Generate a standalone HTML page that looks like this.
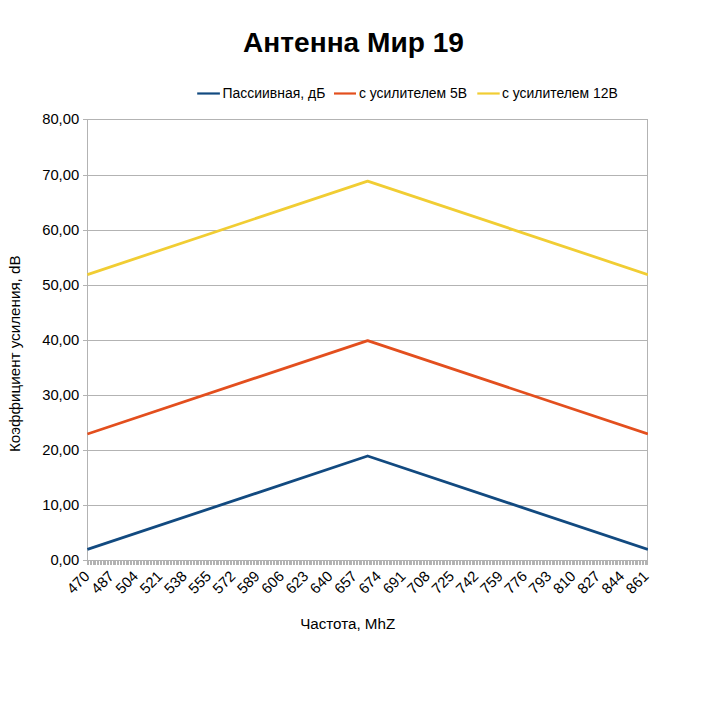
<!DOCTYPE html><html><head><meta charset="utf-8"><style>html,body{margin:0;padding:0;background:#fff}svg{display:block}text{font-family:"Liberation Sans",sans-serif;fill:#000}</style></head><body>
<svg width="707" height="707" viewBox="0 0 707 707">
<rect width="707" height="707" fill="#fff"/>
<text x="353.5" y="52" text-anchor="middle" font-weight="bold" font-size="28.1">Антенна Мир 19</text>
<line x1="197.2" y1="93.5" x2="219.9" y2="93.5" stroke="#124a80" stroke-width="2.2"/>
<text x="222.6" y="97.7" font-size="13.95">Пассиивная, дБ</text>
<line x1="334" y1="93.5" x2="356" y2="93.5" stroke="#e34f1e" stroke-width="2.2"/>
<text x="358.9" y="97.7" font-size="13.95">с усилителем 5В</text>
<line x1="477.3" y1="93.5" x2="499.7" y2="93.5" stroke="#f1cd33" stroke-width="2.2"/>
<text x="501.9" y="97.7" font-size="13.95">с усилителем 12В</text>
<path fill="#b3b3b3" d="M83 119h565v1h-565zM83 175h565v1h-565zM83 230h565v1h-565zM83 285h565v1h-565zM83 340h565v1h-565zM83 395h565v1h-565zM83 450h565v1h-565zM83 505h565v1h-565zM83 560h565v1h-565zM87 119h1v446h-1zM647 119h1v446h-1zM87 561h1v4h-1zM88 561h1v4h-1zM90 561h1v4h-1zM91 561h1v4h-1zM93 561h1v4h-1zM94 561h1v4h-1zM95 561h1v4h-1zM97 561h1v4h-1zM98 561h1v4h-1zM100 561h1v4h-1zM101 561h1v4h-1zM103 561h1v4h-1zM104 561h1v4h-1zM105 561h1v4h-1zM107 561h1v4h-1zM108 561h1v4h-1zM110 561h1v4h-1zM111 561h1v4h-1zM113 561h1v4h-1zM114 561h1v4h-1zM115 561h1v4h-1zM117 561h1v4h-1zM118 561h1v4h-1zM120 561h1v4h-1zM121 561h1v4h-1zM123 561h1v4h-1zM124 561h1v4h-1zM126 561h1v4h-1zM127 561h1v4h-1zM128 561h1v4h-1zM130 561h1v4h-1zM131 561h1v4h-1zM133 561h1v4h-1zM134 561h1v4h-1zM136 561h1v4h-1zM137 561h1v4h-1zM138 561h1v4h-1zM140 561h1v4h-1zM141 561h1v4h-1zM143 561h1v4h-1zM144 561h1v4h-1zM146 561h1v4h-1zM147 561h1v4h-1zM148 561h1v4h-1zM150 561h1v4h-1zM151 561h1v4h-1zM153 561h1v4h-1zM154 561h1v4h-1zM156 561h1v4h-1zM157 561h1v4h-1zM158 561h1v4h-1zM160 561h1v4h-1zM161 561h1v4h-1zM163 561h1v4h-1zM164 561h1v4h-1zM166 561h1v4h-1zM167 561h1v4h-1zM168 561h1v4h-1zM170 561h1v4h-1zM171 561h1v4h-1zM173 561h1v4h-1zM174 561h1v4h-1zM176 561h1v4h-1zM177 561h1v4h-1zM178 561h1v4h-1zM180 561h1v4h-1zM181 561h1v4h-1zM183 561h1v4h-1zM184 561h1v4h-1zM186 561h1v4h-1zM187 561h1v4h-1zM188 561h1v4h-1zM190 561h1v4h-1zM191 561h1v4h-1zM193 561h1v4h-1zM194 561h1v4h-1zM196 561h1v4h-1zM197 561h1v4h-1zM198 561h1v4h-1zM200 561h1v4h-1zM201 561h1v4h-1zM203 561h1v4h-1zM204 561h1v4h-1zM206 561h1v4h-1zM207 561h1v4h-1zM208 561h1v4h-1zM210 561h1v4h-1zM211 561h1v4h-1zM213 561h1v4h-1zM214 561h1v4h-1zM216 561h1v4h-1zM217 561h1v4h-1zM218 561h1v4h-1zM220 561h1v4h-1zM221 561h1v4h-1zM223 561h1v4h-1zM224 561h1v4h-1zM226 561h1v4h-1zM227 561h1v4h-1zM228 561h1v4h-1zM230 561h1v4h-1zM231 561h1v4h-1zM233 561h1v4h-1zM234 561h1v4h-1zM236 561h1v4h-1zM237 561h1v4h-1zM238 561h1v4h-1zM240 561h1v4h-1zM241 561h1v4h-1zM243 561h1v4h-1zM244 561h1v4h-1zM246 561h1v4h-1zM247 561h1v4h-1zM248 561h1v4h-1zM250 561h1v4h-1zM251 561h1v4h-1zM253 561h1v4h-1zM254 561h1v4h-1zM256 561h1v4h-1zM257 561h1v4h-1zM258 561h1v4h-1zM260 561h1v4h-1zM261 561h1v4h-1zM263 561h1v4h-1zM264 561h1v4h-1zM266 561h1v4h-1zM267 561h1v4h-1zM268 561h1v4h-1zM270 561h1v4h-1zM271 561h1v4h-1zM273 561h1v4h-1zM274 561h1v4h-1zM276 561h1v4h-1zM277 561h1v4h-1zM278 561h1v4h-1zM280 561h1v4h-1zM281 561h1v4h-1zM283 561h1v4h-1zM284 561h1v4h-1zM286 561h1v4h-1zM287 561h1v4h-1zM289 561h1v4h-1zM290 561h1v4h-1zM291 561h1v4h-1zM293 561h1v4h-1zM294 561h1v4h-1zM296 561h1v4h-1zM297 561h1v4h-1zM299 561h1v4h-1zM300 561h1v4h-1zM301 561h1v4h-1zM303 561h1v4h-1zM304 561h1v4h-1zM306 561h1v4h-1zM307 561h1v4h-1zM309 561h1v4h-1zM310 561h1v4h-1zM311 561h1v4h-1zM313 561h1v4h-1zM314 561h1v4h-1zM316 561h1v4h-1zM317 561h1v4h-1zM319 561h1v4h-1zM320 561h1v4h-1zM321 561h1v4h-1zM323 561h1v4h-1zM324 561h1v4h-1zM326 561h1v4h-1zM327 561h1v4h-1zM329 561h1v4h-1zM330 561h1v4h-1zM331 561h1v4h-1zM333 561h1v4h-1zM334 561h1v4h-1zM336 561h1v4h-1zM337 561h1v4h-1zM339 561h1v4h-1zM340 561h1v4h-1zM341 561h1v4h-1zM343 561h1v4h-1zM344 561h1v4h-1zM346 561h1v4h-1zM347 561h1v4h-1zM349 561h1v4h-1zM350 561h1v4h-1zM351 561h1v4h-1zM353 561h1v4h-1zM354 561h1v4h-1zM356 561h1v4h-1zM357 561h1v4h-1zM359 561h1v4h-1zM360 561h1v4h-1zM361 561h1v4h-1zM363 561h1v4h-1zM364 561h1v4h-1zM366 561h1v4h-1zM367 561h1v4h-1zM369 561h1v4h-1zM370 561h1v4h-1zM371 561h1v4h-1zM373 561h1v4h-1zM374 561h1v4h-1zM376 561h1v4h-1zM377 561h1v4h-1zM379 561h1v4h-1zM380 561h1v4h-1zM381 561h1v4h-1zM383 561h1v4h-1zM384 561h1v4h-1zM386 561h1v4h-1zM387 561h1v4h-1zM389 561h1v4h-1zM390 561h1v4h-1zM391 561h1v4h-1zM393 561h1v4h-1zM394 561h1v4h-1zM396 561h1v4h-1zM397 561h1v4h-1zM399 561h1v4h-1zM400 561h1v4h-1zM401 561h1v4h-1zM403 561h1v4h-1zM404 561h1v4h-1zM406 561h1v4h-1zM407 561h1v4h-1zM409 561h1v4h-1zM410 561h1v4h-1zM411 561h1v4h-1zM413 561h1v4h-1zM414 561h1v4h-1zM416 561h1v4h-1zM417 561h1v4h-1zM419 561h1v4h-1zM420 561h1v4h-1zM421 561h1v4h-1zM423 561h1v4h-1zM424 561h1v4h-1zM426 561h1v4h-1zM427 561h1v4h-1zM429 561h1v4h-1zM430 561h1v4h-1zM431 561h1v4h-1zM433 561h1v4h-1zM434 561h1v4h-1zM436 561h1v4h-1zM437 561h1v4h-1zM439 561h1v4h-1zM440 561h1v4h-1zM442 561h1v4h-1zM443 561h1v4h-1zM444 561h1v4h-1zM446 561h1v4h-1zM447 561h1v4h-1zM449 561h1v4h-1zM450 561h1v4h-1zM452 561h1v4h-1zM453 561h1v4h-1zM454 561h1v4h-1zM456 561h1v4h-1zM457 561h1v4h-1zM459 561h1v4h-1zM460 561h1v4h-1zM462 561h1v4h-1zM463 561h1v4h-1zM464 561h1v4h-1zM466 561h1v4h-1zM467 561h1v4h-1zM469 561h1v4h-1zM470 561h1v4h-1zM472 561h1v4h-1zM473 561h1v4h-1zM474 561h1v4h-1zM476 561h1v4h-1zM477 561h1v4h-1zM479 561h1v4h-1zM480 561h1v4h-1zM482 561h1v4h-1zM483 561h1v4h-1zM484 561h1v4h-1zM486 561h1v4h-1zM487 561h1v4h-1zM489 561h1v4h-1zM490 561h1v4h-1zM492 561h1v4h-1zM493 561h1v4h-1zM494 561h1v4h-1zM496 561h1v4h-1zM497 561h1v4h-1zM499 561h1v4h-1zM500 561h1v4h-1zM502 561h1v4h-1zM503 561h1v4h-1zM504 561h1v4h-1zM506 561h1v4h-1zM507 561h1v4h-1zM509 561h1v4h-1zM510 561h1v4h-1zM512 561h1v4h-1zM513 561h1v4h-1zM514 561h1v4h-1zM516 561h1v4h-1zM517 561h1v4h-1zM519 561h1v4h-1zM520 561h1v4h-1zM522 561h1v4h-1zM523 561h1v4h-1zM524 561h1v4h-1zM526 561h1v4h-1zM527 561h1v4h-1zM529 561h1v4h-1zM530 561h1v4h-1zM532 561h1v4h-1zM533 561h1v4h-1zM534 561h1v4h-1zM536 561h1v4h-1zM537 561h1v4h-1zM539 561h1v4h-1zM540 561h1v4h-1zM542 561h1v4h-1zM543 561h1v4h-1zM544 561h1v4h-1zM546 561h1v4h-1zM547 561h1v4h-1zM549 561h1v4h-1zM550 561h1v4h-1zM552 561h1v4h-1zM553 561h1v4h-1zM554 561h1v4h-1zM556 561h1v4h-1zM557 561h1v4h-1zM559 561h1v4h-1zM560 561h1v4h-1zM562 561h1v4h-1zM563 561h1v4h-1zM564 561h1v4h-1zM566 561h1v4h-1zM567 561h1v4h-1zM569 561h1v4h-1zM570 561h1v4h-1zM572 561h1v4h-1zM573 561h1v4h-1zM574 561h1v4h-1zM576 561h1v4h-1zM577 561h1v4h-1zM579 561h1v4h-1zM580 561h1v4h-1zM582 561h1v4h-1zM583 561h1v4h-1zM584 561h1v4h-1zM586 561h1v4h-1zM587 561h1v4h-1zM589 561h1v4h-1zM590 561h1v4h-1zM592 561h1v4h-1zM593 561h1v4h-1zM594 561h1v4h-1zM596 561h1v4h-1zM597 561h1v4h-1zM599 561h1v4h-1zM600 561h1v4h-1zM602 561h1v4h-1zM603 561h1v4h-1zM605 561h1v4h-1zM606 561h1v4h-1zM607 561h1v4h-1zM609 561h1v4h-1zM610 561h1v4h-1zM612 561h1v4h-1zM613 561h1v4h-1zM615 561h1v4h-1zM616 561h1v4h-1zM617 561h1v4h-1zM619 561h1v4h-1zM620 561h1v4h-1zM622 561h1v4h-1zM623 561h1v4h-1zM625 561h1v4h-1zM626 561h1v4h-1zM627 561h1v4h-1zM629 561h1v4h-1zM630 561h1v4h-1zM632 561h1v4h-1zM633 561h1v4h-1zM635 561h1v4h-1zM636 561h1v4h-1zM637 561h1v4h-1zM639 561h1v4h-1zM640 561h1v4h-1zM642 561h1v4h-1zM643 561h1v4h-1zM645 561h1v4h-1zM646 561h1v4h-1zM647 561h1v4h-1z"/>
<text x="79.2" y="124.4" text-anchor="end" font-size="14.8">80,00</text>
<text x="79.2" y="180.4" text-anchor="end" font-size="14.8">70,00</text>
<text x="79.2" y="235.4" text-anchor="end" font-size="14.8">60,00</text>
<text x="79.2" y="290.4" text-anchor="end" font-size="14.8">50,00</text>
<text x="79.2" y="345.4" text-anchor="end" font-size="14.8">40,00</text>
<text x="79.2" y="400.4" text-anchor="end" font-size="14.8">30,00</text>
<text x="79.2" y="455.4" text-anchor="end" font-size="14.8">20,00</text>
<text x="79.2" y="510.4" text-anchor="end" font-size="14.8">10,00</text>
<text x="79.2" y="565.4" text-anchor="end" font-size="14.8">0,00</text>
<clipPath id="pc"><rect x="87" y="100" width="561" height="470"/></clipPath><g clip-path="url(#pc)">
<polyline points="87.40,274.58 367.65,181.12 647.90,274.58" fill="none" stroke="#f1cd33" stroke-width="2.8" stroke-linejoin="round"/>
<polyline points="87.40,434.01 367.65,340.55 647.90,434.01" fill="none" stroke="#e34f1e" stroke-width="2.8" stroke-linejoin="round"/>
<polyline points="87.40,549.46 367.65,456.00 647.90,549.46" fill="none" stroke="#124a80" stroke-width="2.8" stroke-linejoin="round"/>
</g>
<text transform="translate(90.50,577.2) rotate(-45)" text-anchor="end" font-size="14.8" letter-spacing="0">470</text>
<text transform="translate(114.81,577.2) rotate(-45)" text-anchor="end" font-size="14.8" letter-spacing="0">487</text>
<text transform="translate(139.11,577.2) rotate(-45)" text-anchor="end" font-size="14.8" letter-spacing="0">504</text>
<text transform="translate(163.42,577.2) rotate(-45)" text-anchor="end" font-size="14.8" letter-spacing="0">521</text>
<text transform="translate(187.73,577.2) rotate(-45)" text-anchor="end" font-size="14.8" letter-spacing="0">538</text>
<text transform="translate(212.04,577.2) rotate(-45)" text-anchor="end" font-size="14.8" letter-spacing="0">555</text>
<text transform="translate(236.34,577.2) rotate(-45)" text-anchor="end" font-size="14.8" letter-spacing="0">572</text>
<text transform="translate(260.65,577.2) rotate(-45)" text-anchor="end" font-size="14.8" letter-spacing="0">589</text>
<text transform="translate(284.96,577.2) rotate(-45)" text-anchor="end" font-size="14.8" letter-spacing="0">606</text>
<text transform="translate(309.27,577.2) rotate(-45)" text-anchor="end" font-size="14.8" letter-spacing="0">623</text>
<text transform="translate(333.57,577.2) rotate(-45)" text-anchor="end" font-size="14.8" letter-spacing="0">640</text>
<text transform="translate(357.88,577.2) rotate(-45)" text-anchor="end" font-size="14.8" letter-spacing="0">657</text>
<text transform="translate(382.19,577.2) rotate(-45)" text-anchor="end" font-size="14.8" letter-spacing="0">674</text>
<text transform="translate(406.50,577.2) rotate(-45)" text-anchor="end" font-size="14.8" letter-spacing="0">691</text>
<text transform="translate(430.80,577.2) rotate(-45)" text-anchor="end" font-size="14.8" letter-spacing="0">708</text>
<text transform="translate(455.11,577.2) rotate(-45)" text-anchor="end" font-size="14.8" letter-spacing="0">725</text>
<text transform="translate(479.42,577.2) rotate(-45)" text-anchor="end" font-size="14.8" letter-spacing="0">742</text>
<text transform="translate(503.73,577.2) rotate(-45)" text-anchor="end" font-size="14.8" letter-spacing="0">759</text>
<text transform="translate(528.03,577.2) rotate(-45)" text-anchor="end" font-size="14.8" letter-spacing="0">776</text>
<text transform="translate(552.34,577.2) rotate(-45)" text-anchor="end" font-size="14.8" letter-spacing="0">793</text>
<text transform="translate(576.65,577.2) rotate(-45)" text-anchor="end" font-size="14.8" letter-spacing="0">810</text>
<text transform="translate(600.96,577.2) rotate(-45)" text-anchor="end" font-size="14.8" letter-spacing="0">827</text>
<text transform="translate(625.26,577.2) rotate(-45)" text-anchor="end" font-size="14.8" letter-spacing="0">844</text>
<text transform="translate(649.57,577.2) rotate(-45)" text-anchor="end" font-size="14.8" letter-spacing="0">861</text>
<text x="347.7" y="628.7" text-anchor="middle" font-size="15.2">Частота, MhZ</text>
<text transform="translate(20.3,353.7) rotate(-90)" text-anchor="middle" font-size="15.2">Коэффициент усиления, dB</text>
</svg></body></html>
